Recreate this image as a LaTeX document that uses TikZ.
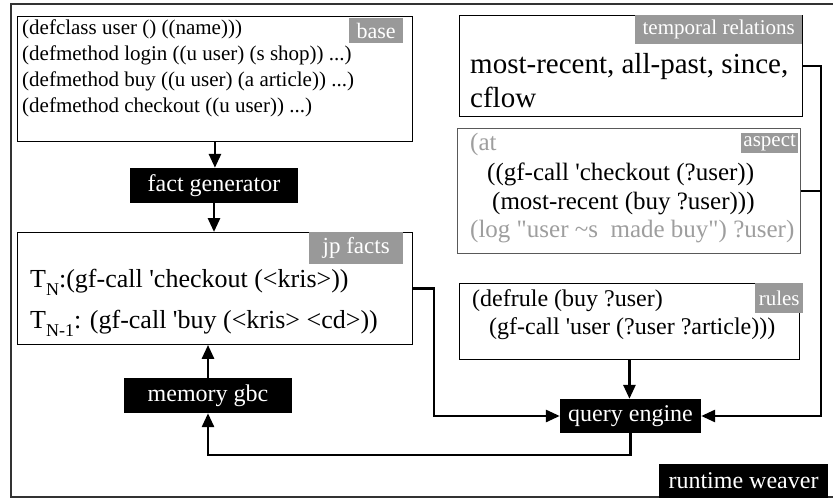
\documentclass[tikz,border=0pt]{standalone}
\usepackage{fontspec}
\setmainfont{Liberation Serif}
\usetikzlibrary{arrows.meta}
\newcommand\fsz[1]{\fontsize{#1}{#1}\selectfont}
\newcommand\sq{\textquotesingle}
\newcommand\dq{\textquotedbl}
\begin{document}
\begin{tikzpicture}[x=1pt,y=-1pt,
  box/.style={draw=black,line width=0.9pt,fill=white,anchor=north west,inner sep=0pt},
  tag/.style={fill=black!40,text=white,inner sep=0pt,anchor=north west},
  blk/.style={fill=black,text=white,inner sep=0pt,font=\fsz{24}},
  txt/.style={anchor=base west,inner sep=0pt},
  conn/.style={line width=2.8pt},
  arr/.style={conn,-{Triangle[length=14pt,width=12pt]}},
]
\useasboundingbox (0,0) rectangle (833,500);
\draw[line width=1.2pt,black!80] (834,4) -- (11,4) -- (11,497) -- (834,497);

% boxes
\node[box,minimum width=395pt,minimum height=125pt] (base) at (17,16) {};
\node[box,minimum width=395pt,minimum height=112pt] (jp) at (17,232) {};
\node[box,minimum width=343pt,minimum height=101pt] (temp) at (459,15) {};
\node[box,draw=black!65,minimum width=343pt,minimum height=125pt] (aspect) at (457,128) {};
\node[box,minimum width=340pt,minimum height=76pt] (rules) at (459,283) {};

% tags
\node[tag,minimum width=54pt,minimum height=25pt,font=\fsz{22}] (tbase) at (349,18) {base};
\node[tag,minimum width=94pt,minimum height=32pt,font=\fsz{23}] (tjp) at (309,232) {jp facts};
\node[tag,minimum width=167pt,minimum height=29pt,font=\fsz{21}] (ttemp) at (635,15) {temporal relations};
\node[tag,minimum width=57pt,minimum height=20pt,font=\fsz{21}] (tasp) at (741,133) {aspect};
\node[tag,minimum width=48pt,minimum height=30pt,font=\fsz{21}] (trules) at (755,283) {rules};

% base text
\node[txt,font=\fsz{21}] (b1) at (22,35) {(defclass user () ((name)))};
\node[txt,font=\fsz{21}] (b2) at (22,61) {(defmethod login ((u user) (s shop)) ...)};
\node[txt,font=\fsz{21}] (b3) at (22,87) {(defmethod buy ((u user) (a article)) ...)};
\node[txt,font=\fsz{21}] (b4) at (22,113) {(defmethod checkout ((u user)) ...)};

% temporal text
\node[txt,font=\fsz{29}] (t1) at (470,74) {most-recent, all-past, since,};
\node[txt,font=\fsz{29}] (t2) at (470,108) {cflow};

% aspect text
\node[txt,font=\fsz{25},text=black!38] (a1) at (470,151) {(at};
\node[txt,font=\fsz{25}] (a2) at (487,180) {((gf-call \sq checkout (?user))};
\node[txt,font=\fsz{25}] (a3) at (492,209) {(most-recent (buy ?user)))};
\node[txt,font=\fsz{25},text=black!38] (a4) at (470,237) {(log \dq user \textasciitilde s\ \ made buy\dq) ?user)};

% jp facts text
\node[txt,font=\fsz{26}] (j1) at (30,287) {T\raisebox{-8pt}{\fsz{18}N}:(gf-call \sq checkout (<kris>))};
\node[txt,font=\fsz{26}] (j2) at (30,328) {T\raisebox{-8pt}{\fsz{18}N-1}: (gf-call \sq buy (<kris> <cd>))};

% rules text
\node[txt,font=\fsz{24}] (r1) at (472,306) {(defrule (buy ?user)};
\node[txt,font=\fsz{24}] (r2) at (489,334) {(gf-call \sq user (?user ?article)))};

% black boxes
\node[blk,minimum width=168pt,minimum height=35pt] (factgen) at (214,185.5) {fact generator};
\node[blk,minimum width=168pt,minimum height=35pt] (mem) at (208,395.5) {memory gbc};
\node[blk,minimum width=141pt,minimum height=34pt] (qe) at (630.5,416) {query engine};
\node[blk,minimum width=169pt,minimum height=34pt] (rw) at (743.5,481) {runtime weaver};

% connector helpers
\coordinate (gbcturn) at (208,455);
\coordinate (jpturn) at (434,0);
\coordinate (rbus) at (821,0);

% connectors
\draw[arr] (base.south) -- (base.south |- factgen.north);
\draw[arr] (factgen.south) -- (factgen.south |- jp.north);
\draw[arr] (mem.north) -- (mem.north |- jp.south);
\draw[arr] (qe.south) |- (gbcturn) -- (mem.south);
\draw[arr] (jp.east) -| (jpturn |- qe.west) -- (qe.west);
\draw[arr] (temp.east) -| (rbus |- qe.east) -- (qe.east);
\draw[conn] (aspect.east) -- (aspect.east -| rbus);
\draw[arr] (rules.south) -- (rules.south |- qe.north);
\end{tikzpicture}
\end{document}
